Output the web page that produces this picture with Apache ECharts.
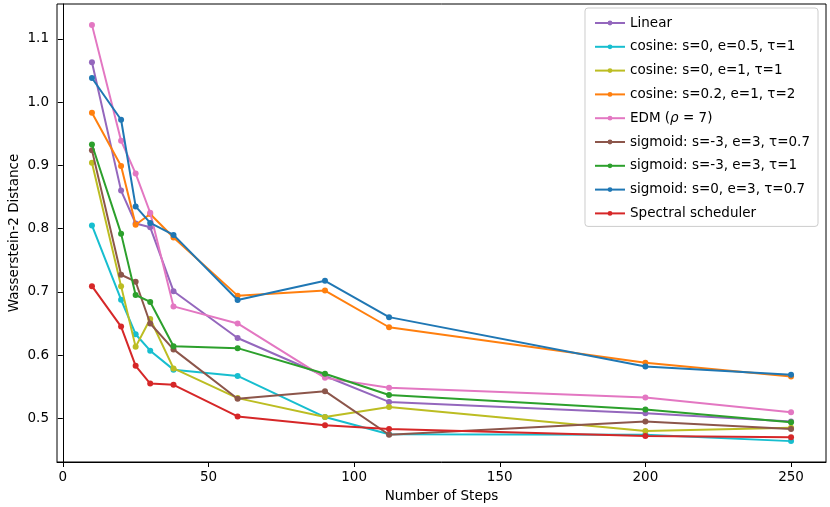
<!DOCTYPE html>
<html>
<head>
<meta charset="utf-8">
<script src="https://cdn.jsdelivr.net/npm/echarts@6/dist/echarts.min.js"></script>
<style>html,body{margin:0;padding:0;background:#fff;}#c{width:830px;height:507px;}</style>
</head>
<body>
<div id="c"></div>
<script>
const steps = [10, 20, 25, 30, 38, 60, 90, 112, 200, 250];
const xTicks = [0, 50, 100, 150, 200, 250];
const yTicks = [0.5, 0.6, 0.7, 0.8, 0.9, 1.0, 1.1];

const seriesNames = [
  'Linear',
  'cosine: s=0, e=0.5, τ=1',
  'cosine: s=0, e=1, τ=1',
  'cosine: s=0.2, e=1, τ=2',
  'EDM (ρ = 7)',
  'sigmoid: s=-3, e=3, τ=0.7',
  'sigmoid: s=-3, e=3, τ=1',
  'sigmoid: s=0, e=3, τ=0.7',
  'Spectral scheduler'
];
const linear      = [1.063, 0.860, 0.808, 0.802, 0.701, 0.627, 0.567, 0.526, 0.508, 0.495];
const cosine05    = [0.805, 0.6875, 0.633, 0.607, 0.577, 0.567, 0.502, 0.475, 0.474, 0.464];
const cosine1     = [0.904, 0.709, 0.613, 0.657, 0.579, 0.532, 0.502, 0.518, 0.480, 0.485];
const cosine02    = [0.983, 0.899, 0.806, 0.823, 0.786, 0.694, 0.702, 0.644, 0.588, 0.566];
const edm         = [1.122, 0.939, 0.887, 0.825, 0.677, 0.650, 0.564, 0.5485, 0.533, 0.5095];
const sigm3t07    = [0.924, 0.727, 0.716, 0.650, 0.609, 0.531, 0.543, 0.474, 0.495, 0.483];
const sigm3t1     = [0.933, 0.792, 0.695, 0.684, 0.614, 0.611, 0.5705, 0.537, 0.514, 0.494];
const sig0t07     = [1.038, 0.972, 0.835, 0.809, 0.790, 0.687, 0.7175, 0.660, 0.582, 0.569];
const spectral    = [0.709, 0.645, 0.583, 0.555, 0.553, 0.503, 0.489, 0.483, 0.472, 0.470];

const allData = [linear, cosine05, cosine1, cosine02, edm, sigm3t07, sigm3t1, sig0t07, spectral];
const colors = ['#9467bd', '#17becf', '#bcbd22', '#ff7f0e', '#e377c2', '#8c564b', '#2ca02c', '#1f77b4', '#d62728'];

const FONT = 'DejaVu Sans';
const FS = 13.5;

const chart = echarts.init(document.getElementById('c'), null, {renderer: 'canvas'});
chart.setOption({
  animation: false,
  backgroundColor: '#fff',
  textStyle: {fontFamily: FONT},
  grid: {left: 57, right: 4, top: 4, bottom: 45, containLabel: false, outerBoundsMode: 'none',
    show: true, borderColor: '#000', borderWidth: 1, backgroundColor: 'transparent'},
  xAxis: {
    type: 'value', min: -2, max: 262,
    name: 'Number of Steps', nameLocation: 'middle', nameGap: 27, nameMoveOverlap: false,
    nameTextStyle: {color: '#000', fontSize: FS, fontFamily: FONT},
    axisLine: {show: true, lineStyle: {color: '#000', width: 1}},
    axisTick: {show: true, length: 5, lineStyle: {color: '#000'}, customValues: xTicks},
    axisLabel: {color: '#000', fontSize: FS, fontFamily: FONT, margin: 8, customValues: xTicks},
    splitLine: {show: false}
  },
  yAxis: {
    type: 'value', min: 0.431, max: 1.155,
    name: 'Wasserstein-2 Distance', nameLocation: 'middle', nameGap: 36, nameMoveOverlap: false,
    nameTextStyle: {color: '#000', fontSize: FS, fontFamily: FONT},
    axisLine: {show: true, lineStyle: {color: '#000', width: 1}},
    axisTick: {show: true, length: 5, lineStyle: {color: '#000'}, customValues: yTicks},
    axisLabel: {color: '#000', fontSize: FS, fontFamily: FONT, margin: 8, customValues: yTicks,
      formatter: v => v.toFixed(1)},
    splitLine: {show: false}
  },
  legend: {
    orient: 'vertical', right: 12, top: 8,
    data: seriesNames,
    itemWidth: 30, itemHeight: 6, itemGap: 9.8,
    padding: [8, 8, 6, 9],
    backgroundColor: 'rgba(255,255,255,0.8)',
    borderColor: '#cccccc', borderWidth: 1, borderRadius: 3,
    textStyle: {color: '#000', fontSize: FS, fontFamily: FONT,
      rich: {i: {fontStyle: 'italic', fontSize: FS, fontFamily: FONT, color: '#000'}}},
    formatter: name => name.replace('ρ', '{i|ρ}')
  },
  series: seriesNames.map((n, k) => ({
    name: n, type: 'line',
    data: steps.map((s, i) => [s, allData[k][i]]),
    symbol: 'circle', symbolSize: 6,
    color: colors[k],
    lineStyle: {width: 2, color: colors[k]},
    itemStyle: {color: colors[k]},
    z: 2 + k
  }))
});
</script>
</body>
</html>
